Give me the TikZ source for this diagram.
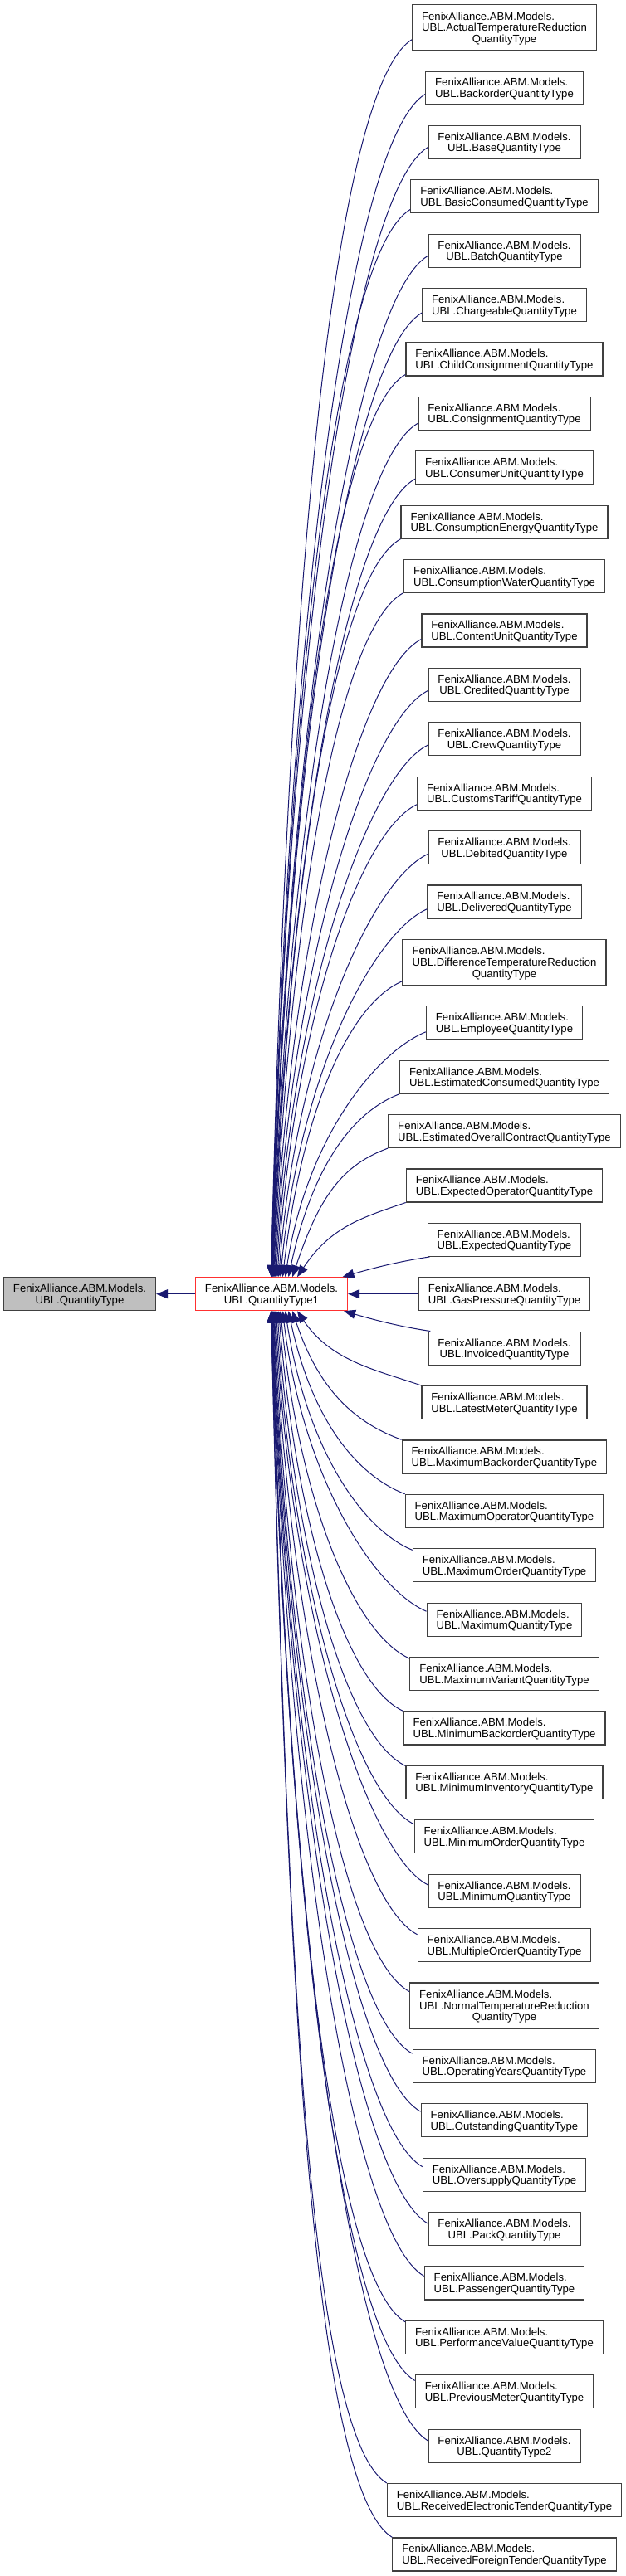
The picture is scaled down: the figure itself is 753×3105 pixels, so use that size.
\documentclass[tikz,border=0pt]{standalone}
\usepackage{fontspec}
\setmainfont{Liberation Sans}
\usetikzlibrary{arrows.meta,calc}
\definecolor{navy}{HTML}{191970}
\definecolor{boxgray}{HTML}{404040}
\definecolor{redb}{HTML}{FF3030}
\definecolor{fillgray}{HTML}{BFBFBF}
\newcommand\mtwo[1]{\begin{tabular}{@{}c@{}}\multicolumn{1}{@{}l@{}}{\rule{0pt}{13.5pt}FenixAlliance.ABM.Models.}\\#1\end{tabular}}
\newcommand\mthree[2]{\begin{tabular}{@{}c@{}}\multicolumn{1}{@{}l@{}}{\rule{0pt}{13.5pt}FenixAlliance.ABM.Models.}\\\multicolumn{1}{@{}l@{}}{#1}\\#2\end{tabular}}
\newcommand\upedge[2]{%
  \draw[inh] let \p1=(#1.west), \p2=(#1.north), \p3=(mid.north),
     \n1={\x2-\x1}, \n2={\y2-\y1}, \n3={\y1-\y3},
     \n4={min(\n2,5+0.45*(\n1-92)+1500/\n3)} in
     (\x1,{\y1-\n4}) .. controls ({\x1-50-0.03*\n3},{\y1-\n4-15-0.03*\n3})
        and ({#2pt+18+2500/\n3},{\y3+0.55*\n3}) .. (#2pt,\y3);}
\newcommand\loedge[2]{%
  \draw[inh] let \p1=(#1.west), \p2=(#1.north), \p3=(mid.south),
     \n1={\x2-\x1}, \n2={\y2-\y1}, \n3={\y3-\y1},
     \n4={min(\n2,5+0.45*(\n1-92)+1500/\n3)} in
     (\x1,{\y1+\n4}) .. controls ({\x1-50-0.03*\n3},{\y1+\n4+15+0.03*\n3})
        and ({#2pt+18+2500/\n3},{\y3-0.55*\n3}) .. (#2pt,\y3);}
\begin{document}
\begin{tikzpicture}[x=1pt,y=-1pt,
  box/.style={draw=boxgray, line width=1.2pt, fill=white, inner xsep=11.5pt, inner ysep=0pt,
    minimum height=40pt, font=\fontsize{13.15}{13.6}\selectfont},
  boxthree/.style={box, minimum height=55pt},
  inh/.style={draw=navy, line width=1pt, -{Triangle[length=14pt,width=11pt]}}]
\useasboundingbox (0,0) rectangle (753,3105);
\node[box, fill=fillgray] (left) at (96,1559.7) {\mtwo{UBL.QuantityType}};
\node[box, draw=redb] (mid) at (327,1559.7) {\mtwo{UBL.QuantityType1}};
\node[boxthree] (k1) at (607.5,33.0) {\mthree{UBL.ActualTemperatureReduction}{QuantityType}};
\node[box] (k2) at (607.5,105.9) {\mtwo{UBL.BackorderQuantityType}};
\node[box] (k3) at (607.5,171.3) {\mtwo{UBL.BaseQuantityType}};
\node[box] (k4) at (607.5,236.7) {\mtwo{UBL.BasicConsumedQuantityType}};
\node[box] (k5) at (607.5,302.1) {\mtwo{UBL.BatchQuantityType}};
\node[box] (k6) at (607.5,367.5) {\mtwo{UBL.ChargeableQuantityType}};
\node[box] (k7) at (607.5,432.9) {\mtwo{UBL.ChildConsignmentQuantityType}};
\node[box] (k8) at (607.5,498.3) {\mtwo{UBL.ConsignmentQuantityType}};
\node[box] (k9) at (607.5,563.7) {\mtwo{UBL.ConsumerUnitQuantityType}};
\node[box] (k10) at (607.5,629.1) {\mtwo{UBL.ConsumptionEnergyQuantityType}};
\node[box] (k11) at (607.5,694.5) {\mtwo{UBL.ConsumptionWaterQuantityType}};
\node[box] (k12) at (607.5,759.9) {\mtwo{UBL.ContentUnitQuantityType}};
\node[box] (k13) at (607.5,825.3) {\mtwo{UBL.CreditedQuantityType}};
\node[box] (k14) at (607.5,890.7) {\mtwo{UBL.CrewQuantityType}};
\node[box] (k15) at (607.5,956.1) {\mtwo{UBL.CustomsTariffQuantityType}};
\node[box] (k16) at (607.5,1021.5) {\mtwo{UBL.DebitedQuantityType}};
\node[box] (k17) at (607.5,1086.9) {\mtwo{UBL.DeliveredQuantityType}};
\node[boxthree] (k18) at (607.5,1159.8) {\mthree{UBL.DifferenceTemperatureReduction}{QuantityType}};
\node[box] (k19) at (607.5,1232.7) {\mtwo{UBL.EmployeeQuantityType}};
\node[box] (k20) at (607.5,1298.1) {\mtwo{UBL.EstimatedConsumedQuantityType}};
\node[box] (k21) at (607.5,1363.5) {\mtwo{UBL.EstimatedOverallContractQuantityType}};
\node[box] (k22) at (607.5,1428.9) {\mtwo{UBL.ExpectedOperatorQuantityType}};
\node[box] (k23) at (607.5,1494.3) {\mtwo{UBL.ExpectedQuantityType}};
\node[box] (k24) at (607.5,1559.7) {\mtwo{UBL.GasPressureQuantityType}};
\node[box] (k25) at (607.5,1625.1) {\mtwo{UBL.InvoicedQuantityType}};
\node[box] (k26) at (607.5,1690.5) {\mtwo{UBL.LatestMeterQuantityType}};
\node[box] (k27) at (607.5,1755.9) {\mtwo{UBL.MaximumBackorderQuantityType}};
\node[box] (k28) at (607.5,1821.3) {\mtwo{UBL.MaximumOperatorQuantityType}};
\node[box] (k29) at (607.5,1886.7) {\mtwo{UBL.MaximumOrderQuantityType}};
\node[box] (k30) at (607.5,1952.1) {\mtwo{UBL.MaximumQuantityType}};
\node[box] (k31) at (607.5,2017.5) {\mtwo{UBL.MaximumVariantQuantityType}};
\node[box] (k32) at (607.5,2082.9) {\mtwo{UBL.MinimumBackorderQuantityType}};
\node[box] (k33) at (607.5,2148.3) {\mtwo{UBL.MinimumInventoryQuantityType}};
\node[box] (k34) at (607.5,2213.7) {\mtwo{UBL.MinimumOrderQuantityType}};
\node[box] (k35) at (607.5,2279.1) {\mtwo{UBL.MinimumQuantityType}};
\node[box] (k36) at (607.5,2344.5) {\mtwo{UBL.MultipleOrderQuantityType}};
\node[boxthree] (k37) at (607.5,2417.4) {\mthree{UBL.NormalTemperatureReduction}{QuantityType}};
\node[box] (k38) at (607.5,2490.3) {\mtwo{UBL.OperatingYearsQuantityType}};
\node[box] (k39) at (607.5,2555.7) {\mtwo{UBL.OutstandingQuantityType}};
\node[box] (k40) at (607.5,2621.1) {\mtwo{UBL.OversupplyQuantityType}};
\node[box] (k41) at (607.5,2686.5) {\mtwo{UBL.PackQuantityType}};
\node[box] (k42) at (607.5,2751.9) {\mtwo{UBL.PassengerQuantityType}};
\node[box] (k43) at (607.5,2817.3) {\mtwo{UBL.PerformanceValueQuantityType}};
\node[box] (k44) at (607.5,2882.7) {\mtwo{UBL.PreviousMeterQuantityType}};
\node[box] (k45) at (607.5,2948.1) {\mtwo{UBL.QuantityType2}};
\node[box] (k46) at (607.5,3013.5) {\mtwo{UBL.ReceivedElectronicTenderQuantityType}};
\node[box] (k47) at (607.5,3078.9) {\mtwo{UBL.ReceivedForeignTenderQuantityType}};
% edges
\draw[inh] (mid.west) -- (left.east);
\draw[inh] (k24.west) -- (mid.east);
\draw[inh] ($(k23.south west)+(3,0)$) .. controls +(-40,6) and +(35,-10) .. ($(mid.north east)+(-6.6,0)$);
\draw[inh] ($(k25.north west)+(3,0)$) .. controls +(-40,-6) and +(35,10) .. ($(mid.south east)+(-5,0)$);
\foreach \k in {1,...,22} {
  \pgfmathsetmacro\xe{326+32*exp(-(22-\k)/5)}
  \upedge{k\k}{\xe}
}
\foreach \k in {26,...,47} {
  \pgfmathsetmacro\xe{326+32*exp(-(\k-26)/5)}
  \loedge{k\k}{\xe}
}
\end{tikzpicture}
\end{document}
